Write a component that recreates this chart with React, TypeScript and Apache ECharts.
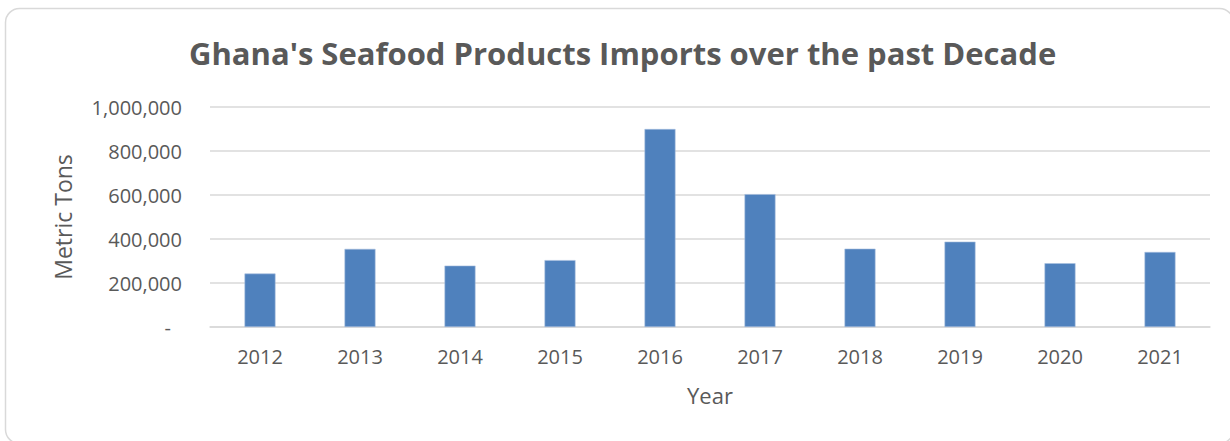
import React, { useEffect, useRef } from "react";
import * as echarts from "echarts";

const title = "Ghana's Seafood Products Imports over the past Decade";
const years = ["2012", "2013", "2014", "2015", "2016", "2017", "2018", "2019", "2020", "2021"];
const imports = [243000, 355000, 279000, 304000, 900000, 604000, 356000, 388000, 290000, 341000];
const yTicks = { min: 0, max: 1000000, interval: 200000 };
const xName = "Year";
const yName = "Metric Tons";

const FONT = "'Open Sans', sans-serif";
const TEXT = "#595959";
const GRID = "#d9d9d9";

export default function App() {
  const ref = useRef<HTMLDivElement>(null);
  useEffect(() => {
    if (!ref.current) return;
    const chart = echarts.init(ref.current, null, { renderer: "svg" });
    chart.setOption({
      animation: false,
      backgroundColor: "#ffffff",
      textStyle: { fontFamily: FONT, color: TEXT },
      title: {
        text: title,
        left: 184,
        top: 32,
        textStyle: { fontFamily: FONT, fontSize: 31, fontWeight: "bold", color: TEXT },
      },
      graphic: [
        {
          type: "rect",
          shape: { x: 5.5, y: 8.5, width: 1228, height: 435, r: 14 },
          style: { fill: "none", stroke: "#d9d9d9", lineWidth: 1.5 },
          silent: true,
        },
      ],
      grid: { left: 210, right: 20, top: 107, bottom: 114, containLabel: false },
      xAxis: {
        type: "category",
        data: years,
        name: xName,
        nameLocation: "middle",
        nameGap: 57,
        nameTextStyle: { fontFamily: FONT, fontSize: 22, color: TEXT },
        axisLine: { show: true, lineStyle: { color: GRID, width: 1.5 } },
        axisTick: { show: false },
        axisLabel: { fontFamily: FONT, fontSize: 20, color: TEXT, margin: 19 },
      },
      yAxis: {
        type: "value",
        min: yTicks.min,
        max: yTicks.max,
        interval: yTicks.interval,
        name: yName,
        nameLocation: "middle",
        nameGap: 136,
        nameTextStyle: { fontFamily: FONT, fontSize: 23, color: TEXT },
        axisLine: { show: false },
        axisTick: { show: false },
        splitLine: { lineStyle: { color: GRID, width: 1.5 } },
        axisLabel: {
          fontFamily: FONT,
          fontSize: 20,
          color: TEXT,
          margin: 28,
          formatter: (v: number) => (v === 0 ? "{d|-}" : v.toLocaleString("en-US")),
          rich: { d: { fontFamily: FONT, fontSize: 20, color: TEXT, padding: [0, 11, 0, 0] } },
        },
      },
      series: [
        {
          type: "bar",
          data: imports,
          barWidth: "31%",
          itemStyle: { color: "#4f81bd", borderColor: "#a7bfdf", borderWidth: 0.6 },
        },
      ],
    });
    return () => chart.dispose();
  }, []);
  return (
    <div
      ref={ref}
      style={{ position: "fixed", left: 0, top: 0, width: 1230, height: 441 }}
    />
  );
}
